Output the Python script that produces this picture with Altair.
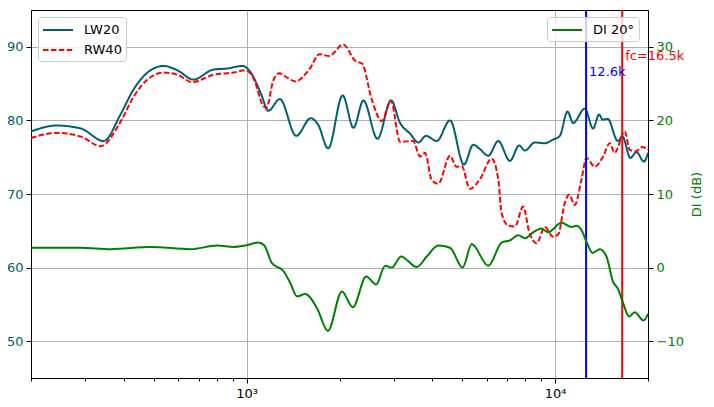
import altair as alt
import pandas as pd

# ---- data ----
freq_lw20 = [200, 242, 290, 344, 390, 430, 477, 538, 597, 672, 780, 866, 968, 1028, 1116, 1175, 1281, 1448, 1614, 1706,
             1838, 2048, 2220, 2391, 2655, 2940, 3144, 3387, 3602, 3815, 4132, 4563, 5064, 5428, 5705, 6071, 6540, 7136, 7647, 7977,
             8596, 9262, 9852, 10356, 10967, 11436, 12477, 13274, 13881, 14260, 14812, 15960, 16520, 17540, 18340, 19410, 20000]
spl_lw20 = [78.5, 79.3, 78.9, 77.2, 80.8, 84.2, 86.5, 87.4, 86.8, 85.55, 86.9, 87.05, 87.4, 86.6, 83.5, 81.3, 82.9, 77.9, 80.3, 79.4,
            76.2, 83.4, 79.0, 82.7, 77.5, 82.7, 79.65, 78.2, 77.0, 77.9, 77.2, 80.0, 74.0, 76.7, 76.1, 75.2, 77.2, 74.5, 76.6, 75.9,
            77.0, 76.9, 77.4, 77.9, 81.2, 79.65, 81.6, 78.9, 80.8, 80.1, 80.2, 77.2, 77.8, 74.9, 75.7, 74.4, 75.6]

freq_rw40 = [200, 242, 290, 336, 390, 430, 477, 538, 597, 666, 780, 906, 990, 1051, 1135, 1158, 1223, 1276, 1354, 1438,
             1607, 1720, 1852, 2056, 2248, 2368, 2546, 2743, 2934, 3144, 3463, 3649, 3787, 3981, 4182, 4563, 4795, 4978, 5297, 5705,
             6226, 6540, 6708, 7046, 7407, 7878, 8237, 8707, 9262, 9852, 10226, 10750, 11100, 11580, 12170, 12636, 13446, 14302, 15030, 15600,
             16810, 17450, 18340, 19060, 20000]
spl_rw40 = [77.6, 78.3, 77.8, 76.5, 79.8, 83.2, 85.55, 86.5, 86.2, 85.2, 86.2, 86.5, 86.8, 85.8, 81.9, 81.7, 85.55, 86.4, 85.8, 85.3,
            87.1, 89.0, 88.75, 90.3, 88.1, 87.7, 82.8, 79.9, 82.7, 77.1, 77.2, 75.1, 75.6, 71.9, 71.4, 75.2, 73.7, 73.8, 70.7, 72.0,
            74.8, 72.0, 67.4, 65.7, 65.6, 68.3, 64.9, 63.3, 65.5, 64.2, 64.5, 68.8, 69.9, 68.5, 71.95, 74.9, 73.7, 75.1, 76.9, 75.6,
            78.5, 76.0, 75.8, 76.4, 76.1]

freq_di = [200, 290, 362, 488, 658, 802, 908, 990, 1093, 1141, 1208, 1318, 1385, 1456, 1549, 1690, 1834, 2036, 2210, 2440,
           2629, 2811, 2955, 3167, 3560, 3835, 4182, 4563, 5015, 5364, 6071, 6708, 7136, 7591, 7977, 8487, 9036, 9491, 10489, 11298,
           11729, 12170, 12636, 13213, 13955, 14670, 15400, 15990, 16600, 17360, 18110, 19360, 20000]
di_20 = [2.7, 2.7, 2.5, 2.8, 2.5, 3.0, 2.8, 3.0, 3.4, 3.0, 0.6, -0.5, -2.1, -3.9, -3.6, -5.5, -8.6, -3.25, -5.4, -1.2,
         -2.3, 0.25, 0.0, 1.5, 0.07, 1.5, 3.0, 2.7, 0.0, 3.2, 0.25, 3.4, 3.7, 4.4, 4.0, 4.8, 5.3, 4.8, 6.1, 5.5,
         5.7, 5.1, 3.5, 2.0, 2.5, 1.5, -1.9, -2.9, -4.8, -6.65, -6.05, -7.2, -6.3]

series_names = ["LW20", "RW40"]
di_name = "DI 20°"
marker_freqs = [12600, 16500]
marker_labels = ["12.6k", "fc=16.5k"]
marker_colors = ["blue", "red"]
marker_label_db = [86.6, 88.8]

major_ticks = [1000, 10000]
minor_ticks = [200, 300, 400, 500, 600, 700, 800, 900, 2000, 3000, 4000, 5000, 6000, 7000, 8000, 9000, 20000]
left_ticks = [50, 60, 70, 80, 90]
right_ticks = [-10, 0, 10, 20, 30]

TEAL = "#00606e"
GREEN = "#008000"
FONT = "DejaVu Sans"
W, H = 617, 368

df_main = pd.concat([
    pd.DataFrame({"freq": freq_lw20, "db": spl_lw20, "series": series_names[0]}),
    pd.DataFrame({"freq": freq_rw40, "db": spl_rw40, "series": series_names[1]}),
])
df_di = pd.DataFrame({"freq": freq_di, "di": di_20, "series": di_name})
df_mark = pd.DataFrame({"freq": marker_freqs, "label": marker_labels, "color": marker_colors, "db": marker_label_db})

xscale = alt.Scale(type="log", domain=[200, 20000], nice=False)
yleft = alt.Scale(domain=[45, 95], nice=False, zero=False)
yright = alt.Scale(domain=[-15, 35], nice=False, zero=False)

legend_common = dict(orient="none", title=None, symbolType="M-1.875,0H1.875", symbolSize=256, symbolStrokeWidth=2,
                     symbolOffset=7, labelFontSize=13, labelFont=FONT, labelColor="black", padding=4, rowPadding=4,
                     fillColor="rgba(255,255,255,0.8)", strokeColor="#cccccc", cornerRadius=3, labelOffset=17)

x_major = alt.X("freq:Q", scale=xscale, title=None,
                axis=alt.Axis(values=major_ticks, orient="bottom", title=None, grid=True, gridColor="#b0b0b0", gridWidth=1,
                              tickSize=5, tickColor="black", domainColor="black", labelFontSize=13, labelFont=FONT,
                              labelColor="black", labelPadding=4,
                              labelExpr="datum.value == 1000 ? '10³' : '10⁴'"))
y_left = alt.Y("db:Q", scale=yleft, title=None,
               axis=alt.Axis(values=left_ticks, orient="left", title=None, grid=True, gridColor="#b0b0b0", gridWidth=1,
                             tickSize=5, tickColor="black", domainColor="black", labelFontSize=13, labelFont=FONT,
                             labelColor=TEAL, labelPadding=3))

main = alt.Chart(df_main).mark_line(interpolate="monotone", strokeWidth=2).encode(
    x=x_major,
    y=y_left,
    color=alt.Color("series:N", scale=alt.Scale(domain=series_names, range=[TEAL, "red"]),
                    legend=alt.Legend(legendX=7, legendY=7, **legend_common)),
    strokeDash=alt.StrokeDash("series:N", scale=alt.Scale(domain=series_names, range=[[1, 0], [5.5, 2.4]]),
                              legend=alt.Legend(legendX=7, legendY=7, **legend_common)),
)

rules = alt.Chart(df_mark).mark_rule(strokeWidth=2).encode(
    x=x_major,
    y=alt.value(0), y2=alt.value(H),
    color=alt.Color("color:N", scale=None),
)

labels = alt.Chart(df_mark).mark_text(align="left", baseline="middle", dx=3, fontSize=13, font=FONT).encode(
    x=x_major,
    y=y_left,
    text="label:N",
    color=alt.Color("color:N", scale=None),
)

di = alt.Chart(df_di).mark_line(interpolate="monotone", strokeWidth=2).encode(
    x=alt.X("freq:Q", scale=xscale, title=None,
            axis=alt.Axis(values=minor_ticks, orient="bottom", title=None, grid=False, labels=False,
                          tickSize=3, tickColor="black", domain=False)),
    y=alt.Y("di:Q", scale=yright,
            axis=alt.Axis(values=right_ticks, orient="right", title="DI (dB)", titleColor=GREEN, titleFont=FONT,
                          titleFontSize=13, titleFontWeight="normal", titleAngle=270, titlePadding=20,
                          grid=False, tickSize=5, tickColor="black", domainColor="black", labelFontSize=13,
                          labelFont=FONT, labelColor=GREEN, labelPadding=3)),
    color=alt.Color("series:N", scale=alt.Scale(domain=[di_name], range=[GREEN]),
                    legend=alt.Legend(legendX=516, legendY=7, **legend_common)),
)

left_layer = alt.layer(main, rules, labels)

chart = alt.layer(left_layer, di).resolve_scale(
    y="independent", color="independent", strokeDash="independent"
).resolve_axis(x="independent").properties(
    width=W, height=H,
    autosize=alt.AutoSizeParams(type="none"),
    padding={"left": 23, "top": 2, "right": 57, "bottom": 21},
).configure_view(stroke="black", strokeWidth=1)

chart.save("out.html", embed_options={"renderer": "svg", "actions": False})
